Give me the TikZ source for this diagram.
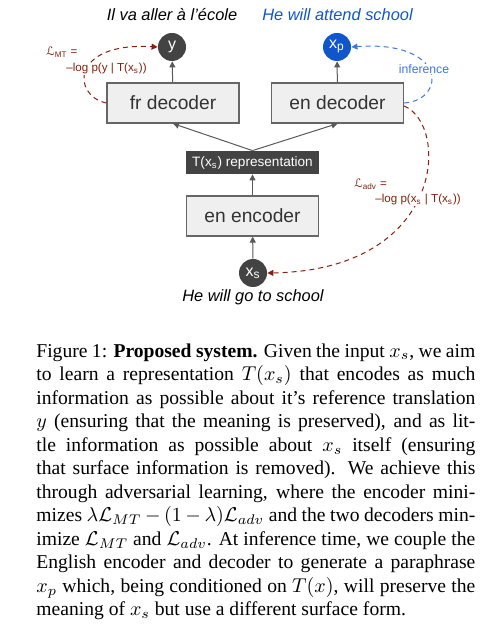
\documentclass[tikz,border=0pt]{standalone}
\usepackage[no-math]{fontspec}
\setmainfont{Liberation Serif}
\setsansfont{Liberation Sans}
\newfontfamily\lsym{DejaVu Sans}
\usetikzlibrary{arrows.meta}

\definecolor{slatedark}{HTML}{434343}
\definecolor{boxgray}{HTML}{EFEFEF}
\definecolor{edgegray}{HTML}{666666}
\definecolor{infblue}{HTML}{1155CC}
\definecolor{dashblue}{HTML}{3C78D8}
\definecolor{lossred}{HTML}{85200C}

\tikzset{
  block/.style={draw=edgegray,fill=boxgray,line width=0.6pt,minimum width=66pt,
    minimum height=20pt,font=\sffamily\fontsize{9.6}{11}\selectfont,text=black!80},
  repbox/.style={fill=slatedark,minimum width=66.5pt,minimum height=11.5pt,inner sep=0pt,
    font=\sffamily\fontsize{6.8}{8}\selectfont,text=white},
  token/.style={circle,fill=slatedark,minimum size=14pt,inner sep=0pt,
    font=\sffamily\fontsize{8}{9}\selectfont,text=white},
  sentence/.style={font=\sffamily\itshape\fontsize{8.2}{10}\selectfont},
  flow/.style={draw=black!65,line width=0.5pt,-{Triangle[length=3pt,width=3pt]}},
  loss/.style={draw=lossred,line width=0.5pt,dash pattern=on 2.5pt off 2pt,
    -{Triangle[length=3pt,width=3pt]}},
  losslabel/.style={fill=white,inner sep=0.5pt,anchor=west,text=lossred,
    font=\sffamily\fontsize{5.8}{7}\selectfont}
}

\begin{document}
\begin{tikzpicture}[x=0.5pt,y=-0.5pt]
  \useasboundingbox (0,0) rectangle (488,635);
  % sentences
  \node[sentence] (fr) at (172,15) {Il va aller à l'école};
  \node[sentence,text=infblue] (para) at (337.5,15) {He will attend school};
  \node[sentence] (src) at (253,297) {He will go to school};
  % model
  \node[token] (y) at (172,47) {y};
  \node[token,fill=infblue] (xp) at (337,47) {x\textsubscript{p}};
  \node[block] (frdec) at (173,103) {fr decoder};
  \node[block] (endec) at (337.5,103) {en decoder};
  \node[repbox] (rep) at (252.5,162.5) {T(x\textsubscript{s}) representation};
  \node[block] (enc) at (252.5,216) {en encoder};
  \node[token] (xs) at (253,273) {x\textsubscript{s}};
  \draw[flow] (xs) -- (enc);
  \draw[flow] (enc) -- (rep);
  \draw[flow] (rep.north) -- (frdec.south);
  \draw[flow] (rep.north) -- (endec.south);
  \draw[flow] (frdec) -- (y);
  \draw[flow] (endec) -- (xp);
  % losses
  \draw[loss] (frdec.west) .. controls (72,96) and (70,42) .. (y.west);
  \draw[loss] ([yshift=-1.5pt]endec.east) .. controls (450,125) and (445,270) .. (xs.east);
  \draw[loss,draw=dashblue] (endec.east) .. controls (447,100) and (447,40) .. (xp.east);
  \node[losslabel] (mta) at (45,52) {{\lsym ℒ}\textsubscript{MT} =};
  \node[losslabel] (mtb) at (65,69) {–log p(y | T(x\textsubscript{s}))};
  \node[losslabel] (adva) at (353,184) {{\lsym ℒ}\textsubscript{adv} =};
  \node[losslabel] (advb) at (374,200) {–log p(x\textsubscript{s} | T(x\textsubscript{s}))};
  \node[losslabel,anchor=center,text=dashblue,font=\sffamily\fontsize{6.1}{7}\selectfont]
    (inf) at (424,69) {inference};
  % caption
  \node[anchor=north west,text width=219.5pt,inner sep=0pt,align=justify,
    font=\fontsize{9.8}{11.75}\selectfont] (cap) at (36,343) {Figure 1: \textbf{Proposed system.} Given the input $x_s$, we aim\linebreak
to learn a representation $T(x_s)$ that encodes as much\linebreak
information as possible about it’s reference translation\linebreak
$y$ (ensuring that the meaning is preserved), and as lit-\linebreak
tle information as possible about $x_s$ itself (ensuring\linebreak
that surface information is removed). We achieve this\linebreak
through adversarial learning, where the encoder mini-\linebreak
mizes $\lambda\mathcal{L}_{MT}-(1-\lambda)\mathcal{L}_{adv}$ and the two decoders min-\linebreak
imize $\mathcal{L}_{MT}$ and $\mathcal{L}_{adv}$. At inference time, we couple the\linebreak
English encoder and decoder to generate a paraphrase\linebreak
$x_p$ which, being conditioned on $T(x)$, will preserve the\linebreak
meaning of $x_s$ but use a different surface form.};
\end{tikzpicture}
\end{document}
